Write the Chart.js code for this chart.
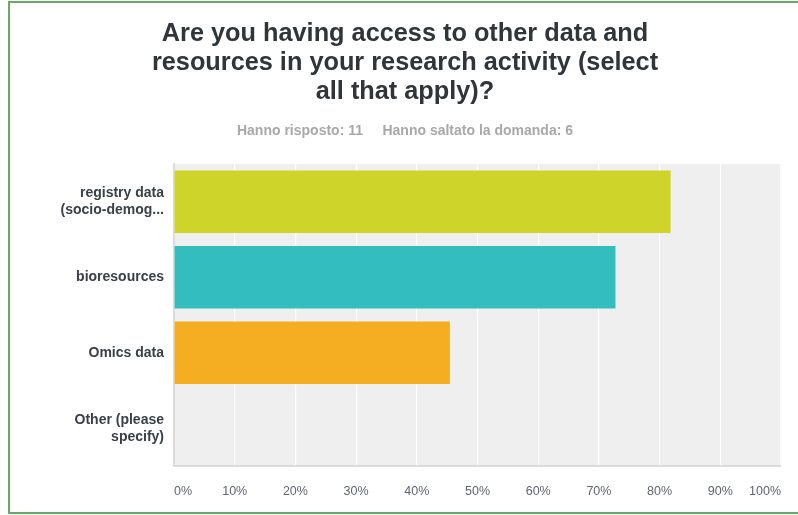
<!DOCTYPE html>
<html>
<head>
<meta charset="utf-8">
<script src="https://cdn.jsdelivr.net/npm/chart.js@4/dist/chart.umd.min.js"></script>
<style>
  html, body { margin: 0; padding: 0; background: #ffffff; overflow: hidden; }
  #frame {
    position: absolute; left: 8px; top: 1px; width: 900px; height: 513px;
    box-sizing: border-box; border: 2px solid #6aa86a;
  }
  #chart { position: absolute; left: 0; top: 0; }
</style>
</head>
<body>
<div id="frame"></div>
<canvas id="chart" width="798" height="515"></canvas>
<script>
// Survey question and response summary
const titleLines = [
  'Are you having access to other data and',
  'resources in your research activity (select',
  'all that apply)?'
];
const summaryText = 'Hanno risposto: 11\u00a0\u00a0\u00a0\u00a0\u00a0Hanno saltato la domanda: 6';

// Answer choices (multi-line labels) and share of respondents, in percent
const categories = [
  ['registry data', '(socio-demog...'],
  'bioresources',
  'Omics data',
  ['Other (please', 'specify)']
];
const percentages = [81.82, 72.73, 45.45, 0];
const barColors = ['#cfd42a', '#33bdbe', '#f5ae21', '#8e5fa8'];

// X axis tick values
const tickValues = [0, 10, 20, 30, 40, 50, 60, 70, 80, 90, 100];

const FONT = '"Liberation Sans", Arial, Helvetica, sans-serif';

// Grey panel behind the bars
const plotBackground = {
  id: 'plotBackground',
  beforeDraw(chart) {
    const { ctx, chartArea: a } = chart;
    ctx.save();
    ctx.fillStyle = '#efefef';
    ctx.fillRect(a.left, a.top, a.right - a.left, a.bottom - a.top);
    ctx.restore();
  }
};

new Chart(document.getElementById('chart'), {
  type: 'bar',
  data: {
    labels: categories,
    datasets: [{
      data: percentages,
      backgroundColor: barColors,
      borderWidth: 0,
      categoryPercentage: 1,
      barPercentage: 0.83
    }]
  },
  options: {
    indexAxis: 'y',
    responsive: false,
    animation: false,
    events: [],
    layout: { padding: { left: 12, right: 0, top: 0, bottom: 0 } },
    plugins: {
      legend: { display: false },
      tooltip: { enabled: false },
      title: {
        display: true,
        text: titleLines,
        color: '#30353a',
        font: { family: FONT, size: 25.3, weight: 'bold', lineHeight: 1.16 },
        padding: { top: 19, bottom: 0 }
      },
      subtitle: {
        display: true,
        text: summaryText,
        color: '#a8a8a8',
        font: { family: FONT, size: 14, weight: 'bold', lineHeight: 1.2 },
        padding: { top: 15.6, bottom: 24.6 }
      }
    },
    scales: {
      x: {
        type: 'linear',
        min: 0,
        max: 100,
        afterBuildTicks(scale) {
          scale.ticks = tickValues.map(v => ({ value: v }));
        },
        afterFit(scale) {
          scale.height = 49;
          scale.paddingRight = 17;
        },
        grid: { color: '#ffffff', lineWidth: 1.2, drawTicks: false },
        border: { display: true, color: '#dcdcdc', width: 2 },
        ticks: {
          padding: 18.5,
          align: 'inner',
          color: '#5f6670',
          font: { family: FONT, size: 12.5 },
          callback: v => v + '%'
        }
      },
      y: {
        afterFit(scale) { scale.width = 162; },
        grid: { display: false, drawTicks: false },
        border: { display: true, color: '#dcdcdc', width: 2 },
        ticks: {
          padding: 10,
          color: '#3a4048',
          font: { family: FONT, size: 14, weight: 'bold', lineHeight: 1.2 }
        }
      }
    }
  },
  plugins: [plotBackground]
});
</script>
</body>
</html>
